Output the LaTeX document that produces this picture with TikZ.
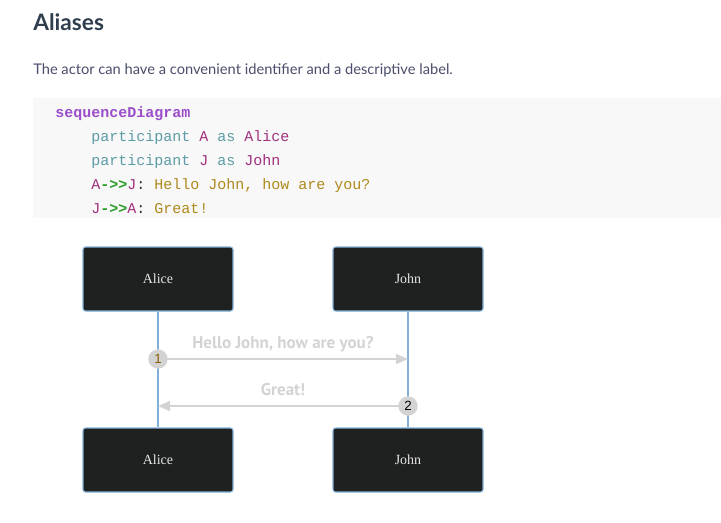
\documentclass[tikz,border=0pt]{standalone}
\usepackage{fontspec}
\setmainfont{Lato}
\setmonofont{Liberation Mono}
\newfontfamily\actorfont{Liberation Serif}
\newfontfamily\msgfont{PT Sans}
\newfontfamily\numfont{Liberation Sans}
\usetikzlibrary{arrows.meta,positioning,calc}
\definecolor{docHead}{HTML}{2F3E4E}
\definecolor{docText}{HTML}{4A4E6A}
\definecolor{codeBg}{HTML}{F8F8F8}
\definecolor{codeKey}{HTML}{9B4DCA}
\definecolor{codeWord}{HTML}{5E9CA6}
\definecolor{codeId}{HTML}{A0307E}
\definecolor{codeOp}{HTML}{2A9A2A}
\definecolor{codeMsg}{HTML}{AE8A1C}
\definecolor{codeDark}{HTML}{333333}
\definecolor{seqActor}{HTML}{1F2020}
\definecolor{seqBorder}{HTML}{81B1DB}
\definecolor{seqMsg}{HTML}{D3D3D3}
\definecolor{seqNum}{HTML}{8A5A00}
\tikzset{
    seqActorBox/.style={
        rectangle,
        draw=seqBorder,
        fill=seqActor,
        rounded corners=2pt,
        line width=0.8pt,
        minimum width=112.5pt,
        minimum height=48pt,
        font=\actorfont\fontsize{10.5pt}{12pt}\selectfont,
        text=white!90!black
    },
    seqLife/.style={draw=seqBorder, line width=1.2pt},
    seqArrow/.style={-{Triangle[length=9pt,width=7.5pt]}, draw=seqMsg, line width=1.5pt},
    seqLabel/.style={font=\msgfont\bfseries\fontsize{12.75pt}{14pt}\selectfont, text=seqMsg, anchor=base},
    seqNumBox/.style={circle, fill=seqMsg, inner sep=0pt, minimum size=14.5pt,
        font=\numfont\fontsize{10pt}{11pt}\selectfont},
    codeLine/.style={anchor=base west, inner sep=0pt, font=\ttfamily\fontsize{11.25pt}{13pt}\selectfont}
}
\begin{document}
\begin{tikzpicture}[x=0.75pt, y=-0.75pt]
\useasboundingbox (0,0) rectangle (721,522);

% --- Header text ---
\node[anchor=base west, inner sep=0pt, font=\bfseries\fontsize{17pt}{19pt}\selectfont, text=docHead] (title) at (33,30) {Aliases};
\node[anchor=base west, inner sep=0pt, font=\fontsize{11pt}{13pt}\selectfont, text=docText] (intro) at (33,74)
    {The actor can have a convenient identifier and a descriptive label.};

% --- Code block ---
\fill[codeBg] (33,98) rectangle (721,218);
\node[codeLine, text=codeKey, font=\ttfamily\bfseries\fontsize{11.25pt}{13pt}\selectfont] (c1) at (55,117) {sequenceDiagram};
\node[codeLine] (c2) at (91,141) {\textcolor{codeWord}{participant} \textcolor{codeId}{A} \textcolor{codeWord}{as} \textcolor{codeId}{Alice}};
\node[codeLine] (c3) at (91,165) {\textcolor{codeWord}{participant} \textcolor{codeId}{J} \textcolor{codeWord}{as} \textcolor{codeId}{John}};
\node[codeLine] (c4) at (91,189) {\textcolor{codeId}{A}\textcolor{codeOp}{\bfseries->>}\textcolor{codeId}{J}\textcolor{codeDark}{:} \textcolor{codeMsg}{Hello John, how are you?}};
\node[codeLine] (c5) at (91,213) {\textcolor{codeId}{J}\textcolor{codeOp}{\bfseries->>}\textcolor{codeId}{A}\textcolor{codeDark}{:} \textcolor{codeMsg}{Great!}};

% --- Actors ---
\node[seqActorBox] (aliceTop) at (158,279) {Alice};
\node[seqActorBox] (johnTop) at (408,279) {John};
\node[seqActorBox] (aliceBot) at (158,460) {Alice};
\node[seqActorBox] (johnBot) at (408,460) {John};

% Lifelines
\draw[seqLife] (aliceTop.south) -- (aliceBot.north);
\draw[seqLife] (johnTop.south) -- (johnBot.north);

% --- Messages ---
\coordinate (m1a) at (158,359);
\coordinate (m1j) at (408,359);
\coordinate (m2j) at (408,406);
\coordinate (m2a) at (158,406);

\draw[seqArrow] (m1a) -- (m1j);
\node[seqLabel] (l1) at (283,348) {Hello John, how are you?};
\node[seqNumBox, text=seqNum] (n1) at (m1a) {1};

\draw[seqArrow] (m2j) -- (m2a);
\node[seqLabel] (l2) at (283,395) {Great!};
\node[seqNumBox, text=black] (n2) at (m2j) {2};

\end{tikzpicture}
\end{document}
